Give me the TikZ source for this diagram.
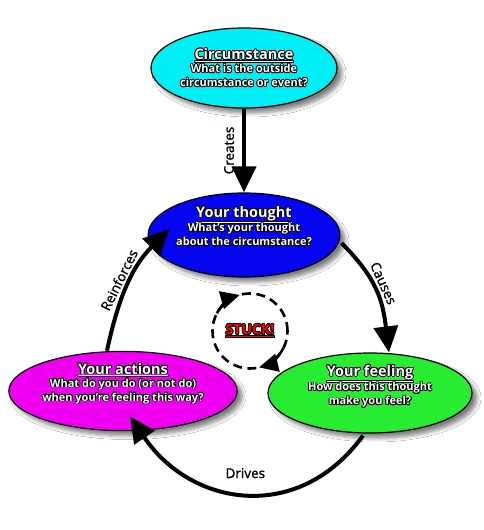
\documentclass[tikz,border=0pt]{standalone}
\usepackage{fontspec}
\setmainfont{Open Sans}
\newfontfamily\lblfont[FakeBold=1.2]{Open Sans}
\usepackage{contour}
\contourlength{0.75pt}
\usetikzlibrary{shapes.geometric,arrows.meta,shadows.blur,calc}
\definecolor{cCirc}{RGB}{0,238,245}
\definecolor{cThought}{RGB}{5,5,240}
\definecolor{cAct}{RGB}{240,0,240}
\definecolor{cFeel}{RGB}{40,236,50}
\newcommand\ttlx[1]{{\fontsize{14.5}{17}\selectfont\bfseries\color{white}\contour{black}{\underline{#1}}}}
\newcommand\sbtx[1]{{\fontsize{11}{14}\selectfont\bfseries\color{white}\contour{black}{#1}}}
\begin{document}
\begin{tikzpicture}[x=1pt,y=1pt,
  bubble/.style={ellipse, draw=black, line width=1.2pt, inner sep=0pt, align=center,
    font=\fontsize{11}{14}\selectfont,
    blur shadow={shadow xshift=5pt, shadow yshift=-5pt, shadow blur steps=6, shadow opacity=50, shadow blur radius=4pt}},
  conn/.style={line width=4pt, -{Triangle[length=26pt,width=24pt]}},
  lbl/.style={font=\lblfont\fontsize{13.5}{15}\selectfont, inner sep=3pt, text=black},
  stuckarrow/.style={line width=2.6pt, -{Triangle[length=19pt,width=18pt]}}]
\useasboundingbox (0,0) rectangle (484,530);
\fill[white] (0,0) rectangle (484,530);

\node[bubble, fill=cCirc, minimum width=186pt, minimum height=80pt] (circ) at (244,462)
  {\ttlx{Circumstance}\\[-1pt]\sbtx{What is the outside}\\\sbtx{circumstance or event?}};
\node[bubble, fill=cThought, minimum width=190pt, minimum height=84pt] (thought) at (244,295)
  {\ttlx{Your thought}\\[-1pt]\sbtx{What's your thought}\\\sbtx{about the circumstance?}\\[4pt]};
\node[bubble, fill=cAct, minimum width=198pt, minimum height=78pt] (act) at (123,139)
  {\ttlx{Your actions}\\[-1pt]\sbtx{What do you do (or not do)}\\\sbtx{when you're feeling this way?}\\[4pt]};
\node[bubble, fill=cFeel, minimum width=204pt, minimum height=80pt] (feel) at (370,137)
  {\ttlx{Your feeling}\\[-1pt]\sbtx{How does this thought}\\\sbtx{make you feel?}\\[2pt]};

\node[circle, draw=black, line width=2.6pt, dash pattern=on 9pt off 5.5pt, minimum size=75pt, inner sep=0pt] (stuck) at (250,199)
  {{\fontsize{14}{16}\selectfont\bfseries\color{red}\contour{black}{\underline{STUCK!}}}};
\draw[stuckarrow] ($(stuck.center)+(152:37.5)$) arc (152:106:37.5);
\draw[stuckarrow] ($(stuck.center)+(-28:37.5)$) arc (-28:-76:37.5);

\draw[conn] (circ.south) -- node[lbl, pos=0.5, rotate=90, anchor=south, inner sep=8pt] {Creates} (thought.north);
\draw[conn] ($(thought.east)+(1,-8)$) to[out=-45,in=97,looseness=1.1]
  node[lbl, sloped, above, pos=0.45] {Causes} ($(feel.north)+(19,0)$);
\draw[conn] ($(feel.south)+(-7,-2)$) to[out=-126,in=-56,looseness=1.2]
  node[lbl, pos=0.5, above=10pt] {Drives} ($(act.south)+(7,15)$);
\draw[conn] ($(act.north)+(-16,0)$) to[out=78,in=225]
  node[lbl, sloped, above, pos=0.5] {Reinforces} ($(thought.west)+(22,6)$);
\end{tikzpicture}
\end{document}
